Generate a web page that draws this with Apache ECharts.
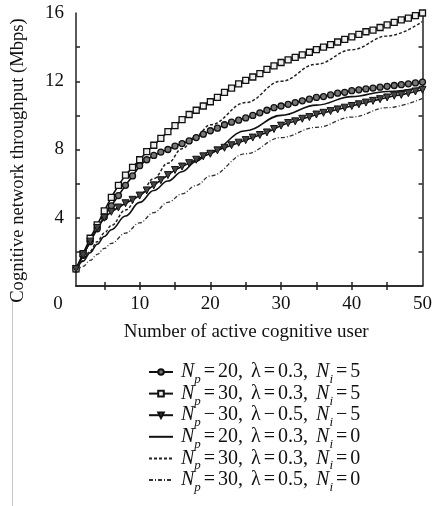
<!DOCTYPE html>
<html>
<head>
<meta charset="utf-8">
<script src="https://cdn.jsdelivr.net/npm/echarts@6/dist/echarts.min.js"></script>
<style>html,body{margin:0;padding:0;background:#fff}#c{width:435px;height:506px}</style>
</head>
<body>
<div id="c"></div>
<script>
// ---- data ----
var xUsers = [1,2,3,4,5,6,7,8,9,10,11,12,13,14,15,16,17,18,19,20,21,22,23,24,25,26,27,28,29,30,31,32,33,34,35,36,37,38,39,40,41,42,43,44,45,46,47,48,49,50];
var circNp20L03Ni5 = [1.0,1.8,2.6,3.35,4.05,4.7,5.3,5.9,6.45,7.05,7.4,7.65,7.85,8.0,8.2,8.35,8.5,8.7,8.9,9.1,9.25,9.45,9.6,9.72,9.85,10.0,10.15,10.3,10.45,10.55,10.65,10.75,10.85,10.95,11.05,11.1,11.2,11.3,11.35,11.45,11.5,11.55,11.6,11.65,11.7,11.75,11.8,11.85,11.9,11.95];
var sqNp30L03Ni5 = [1.0,1.9,2.8,3.58,4.4,5.2,5.9,6.5,6.95,7.4,7.87,8.25,8.65,9.05,9.4,9.75,10.05,10.3,10.55,10.8,11.05,11.35,11.6,11.85,12.05,12.25,12.45,12.7,12.9,13.1,13.25,13.4,13.55,13.7,13.85,14.0,14.15,14.3,14.45,14.6,14.75,14.9,15.0,15.15,15.3,15.45,15.6,15.7,15.85,16.0];
var triNp30L05Ni5 = [1.0,1.8,2.6,3.4,4.0,4.35,4.6,4.85,5.05,5.3,5.6,5.9,6.2,6.5,6.8,7.0,7.2,7.4,7.6,7.75,7.95,8.1,8.25,8.4,8.55,8.7,8.85,9.0,9.2,9.4,9.55,9.65,9.8,9.9,10.05,10.15,10.25,10.35,10.45,10.55,10.65,10.75,10.85,10.95,11.05,11.15,11.2,11.3,11.4,11.5];
var xSparse = [1,2,3,4,5,6,8,10,12,14,16,18,20,25,30,35,40,45,50];
var solidNp20L03Ni0 = [0.9,1.45,1.95,2.45,2.9,3.3,4.1,4.9,5.6,6.15,6.7,7.3,7.9,9.1,10.0,10.6,11.1,11.4,11.65];
var dashNp30L03Ni0 = [0.9,1.5,2.05,2.6,3.1,3.55,4.45,5.35,6.3,7.2,8.05,8.8,9.45,10.75,12.0,13.0,13.85,14.65,15.5];
var dashdotNp30L05Ni0 = [0.8,1.15,1.5,1.85,2.2,2.5,3.1,3.7,4.3,4.9,5.4,5.9,6.45,7.75,8.7,9.3,9.9,10.45,11.0];
var xTickValues = [5,10,15,20,25,30,35,40,45];
var xLabelValues = [1,10,20,30,40,50];
var xTickLabels = ['0','10','20','30','40','50'];
var yTickValues = [2,4,6,8,10,12,14];
var yLabelValues = [4,8,12,16];
var yTickLabels = ['4','8','12','16'];
var seriesNames = ['s1','s2','s3','s4','s5','s6'];
var legendTexts = [
  '{n|N}{s|p}{e|=}20{c|,} λ{e|=}0.3{c|,} {n|N}{s|i}{e|=}5',
  '{n|N}{s|p}{e|=}30{c|,} λ{e|=}0.3{c|,} {n|N}{s|i}{e|=}5',
  '{n|N}{s|p}{e|−}30{c|,} λ{e|−}0.5{c|,} {n|N}{s|i}{e|−}5',
  '{n|N}{s|p}{e|=}20{c|,} λ{e|=}0.3{c|,} {n|N}{s|i}{e|=}0',
  '{n|N}{s|p}{e|=}30{c|,} λ{e|=}0.3{c|,} {n|N}{s|i}{e|=}0',
  '{n|N}{s|p}{e|=}30{c|,} λ{e|=}0.5{c|,} {n|N}{s|i}{e|=}0'
];
// ---- chart ----
var FONT = '"Liberation Serif", "DejaVu Serif", serif';
function zip(xs, ys){ return xs.map(function(x,i){ return [x, ys[i]]; }); }
var chart = echarts.init(document.getElementById('c'), null, {renderer:'canvas'});
var axisLineStyle = {color:'#222', width:1.5};
var baseLine = {color:'#111', width:1.6};
var hidden = {color:'rgba(0,0,0,0)', borderColor:'rgba(0,0,0,0)', borderWidth:0};
var LH = 16;
var legendRich = {
  n:{fontFamily:FONT, fontSize:20, fontStyle:'italic', color:'#111', lineHeight:LH},
  e:{fontFamily:FONT, fontSize:20, color:'#111', lineHeight:LH, padding:[0,3,0,3]},
  c:{fontFamily:FONT, fontSize:20, color:'#111', lineHeight:LH, padding:[0,3,0,0]},
  s:{fontFamily:FONT, fontSize:13, fontStyle:'italic', color:'#111', verticalAlign:'bottom', lineHeight:LH, padding:[0,0,-6,0]}
};
var legends = seriesNames.map(function(nm, i){
  return {
    orient:'vertical', left:143, top:357 + i*21.6, itemWidth:24, itemHeight:7, itemGap:0,
    data:[ i < 3 ? {name:nm} : {name:nm, itemStyle:hidden} ],
    formatter:function(name){ return legendTexts[seriesNames.indexOf(name)]; },
    textStyle:{fontFamily:FONT, fontSize:20, color:'#111', lineHeight:LH, padding:[0,0,0,3], rich:legendRich}
  };
});
var option = {
  animation:false,
  backgroundColor:'#fff',
  grid:{left:76, right:7, top:13, bottom:220, containLabel:false},
  xAxis:[{
    type:'value', min:1, max:50, position:'bottom',
    name:'Number of active cognitive user', nameLocation:'middle', nameGap:37,
    nameTextStyle:{fontFamily:FONT, fontSize:19, color:'#111', padding:[0,6,0,0]},
    axisLine:{show:true, lineStyle:axisLineStyle},
    axisTick:{show:true, inside:true, length:4, lineStyle:axisLineStyle, customValues:xTickValues},
    axisLabel:{show:true, customValues:xLabelValues, margin:9, fontFamily:FONT, fontSize:19, color:'#111',
      formatter:function(v){ var i = xLabelValues.indexOf(v); if(i===0){ return '{z|'+xTickLabels[0]+'}'; } return i>=0 ? xTickLabels[i] : ''; },
      rich:{z:{fontFamily:FONT, fontSize:19, color:'#111', padding:[0,36,0,0]}}},
    splitLine:{show:false}
  },{
    type:'value', min:1, max:50, position:'top',
    axisLine:{show:true, lineStyle:axisLineStyle},
    axisTick:{show:true, inside:true, length:4, lineStyle:axisLineStyle, customValues:xTickValues},
    axisLabel:{show:false}, splitLine:{show:false}
  }],
  yAxis:[{
    type:'value', min:0, max:16, position:'left',
    name:'Cognitive network throughput (Mbps)', nameLocation:'middle', nameGap:48,
    nameTextStyle:{fontFamily:FONT, fontSize:18.6, color:'#111', padding:[0,22,0,0]},
    axisLine:{show:true, lineStyle:axisLineStyle},
    axisTick:{show:true, inside:true, length:4, lineStyle:axisLineStyle, customValues:yTickValues},
    axisLabel:{show:true, customValues:yLabelValues, margin:12, fontFamily:FONT, fontSize:19, color:'#111',
      formatter:function(v){ var i = yLabelValues.indexOf(v); return i>=0 ? yTickLabels[i] : ''; }},
    splitLine:{show:false}
  },{
    type:'value', min:0, max:16, position:'right',
    axisLine:{show:true, lineStyle:axisLineStyle},
    axisTick:{show:true, inside:true, length:4, lineStyle:axisLineStyle, customValues:yTickValues},
    axisLabel:{show:false}, splitLine:{show:false}
  }],
  legend:legends,
  graphic:[{type:'line', shape:{x1:12.5, y1:300, x2:12.5, y2:506}, style:{stroke:'#c8c8c8', lineWidth:1}, silent:true}],
  series:[
    {name:seriesNames[0], type:'line', data:zip(xUsers, circNp20L03Ni5), symbol:'circle', symbolSize:6,
      itemStyle:{color:'#777', borderColor:'#111', borderWidth:1.3}, lineStyle:baseLine},
    {name:seriesNames[1], type:'line', data:zip(xUsers, sqNp30L03Ni5), symbol:'rect', symbolSize:6,
      itemStyle:{color:'#eee', borderColor:'#111', borderWidth:1.3}, lineStyle:baseLine},
    {name:seriesNames[2], type:'line', data:zip(xUsers, triNp30L05Ni5), symbol:'triangle', symbolRotate:180, symbolSize:7,
      itemStyle:{color:'#444', borderColor:'#111', borderWidth:1}, lineStyle:baseLine},
    {name:seriesNames[3], type:'line', data:zip(xSparse, solidNp20L03Ni0), symbol:'none', smooth:0.4, smoothMonotone:'x',
      itemStyle:{color:'#111'}, lineStyle:{color:'#111', width:1.6}},
    {name:seriesNames[4], type:'line', data:zip(xSparse, dashNp30L03Ni0), symbol:'none', smooth:0.4, smoothMonotone:'x',
      itemStyle:{color:'#111'}, lineStyle:{color:'#222', width:1.5, type:[3,2]}},
    {name:seriesNames[5], type:'line', data:zip(xSparse, dashdotNp30L05Ni0), symbol:'none', smooth:0.4, smoothMonotone:'x',
      itemStyle:{color:'#111'}, lineStyle:{color:'#333', width:1.3, type:[4,2,1,2]}}
  ]
};
chart.setOption(option);
</script>
</body>
</html>
